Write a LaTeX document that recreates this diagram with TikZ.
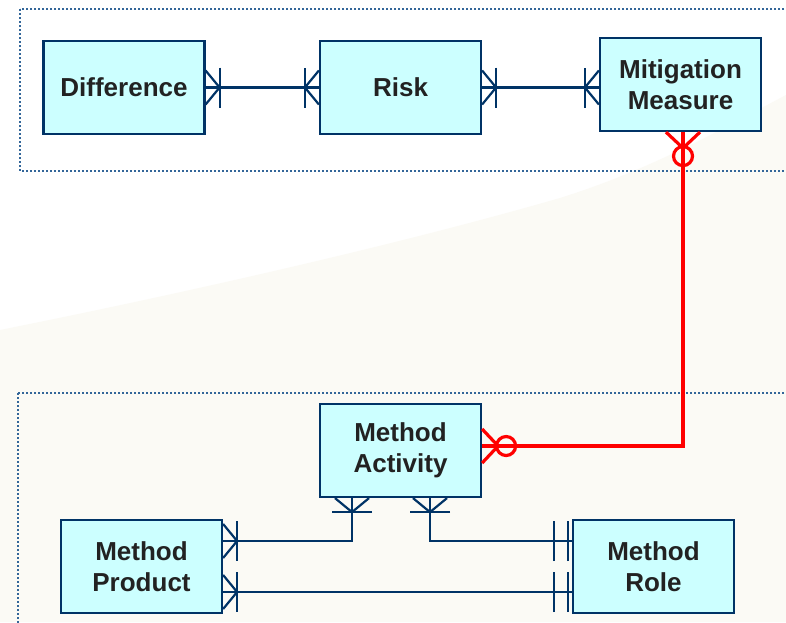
\documentclass[tikz,border=0pt]{standalone}
\usepackage{fontspec}
\setmainfont{Liberation Sans}
\definecolor{erblue}{HTML}{003366}
\definecolor{boxfill}{HTML}{CCFFFF}
\definecolor{dotblue}{HTML}{336699}
\definecolor{beige}{HTML}{FBFAF5}
\definecolor{txt}{HTML}{222222}
\tikzset{
  entity/.style={draw=erblue, line width=2.2pt, fill=boxfill, minimum width=161pt, minimum height=93pt,
    inner sep=0pt, align=center, text=txt, font=\fontsize{26}{31}\selectfont\bfseries},
  erline/.style={draw=erblue, line width=2.2pt},
  redline/.style={draw=red, line width=3.2pt},
  groupbox/.style={draw=dotblue, line width=2pt, dash pattern=on 2pt off 2pt},
  pics/onemany/.style={code={\draw[erline] (0,17)--(14,0)--(0,-17); \draw[erline] (14,-20)--(14,20);}},
  pics/zeromany/.style={code={\draw[redline] (0,17)--(16,0)--(0,-17); \draw[redline] (24,0) circle[radius=9.5pt];}},
  pics/oneone/.style={code={\draw[erline] (4,-20)--(4,20) (18,-20)--(18,20);}},
}
\begin{document}
\begin{tikzpicture}[x=1pt,y=-1pt]
\useasboundingbox (0,0) rectangle (786,622);
\clip (0,0) rectangle (786,622);
\fill[white] (0,0) rectangle (786,622);
\fill[beige] (0,330) .. controls (150,300) and (380,250) .. (560,198) .. controls (650,170) and (720,130) .. (786,95) -- (786,622) -- (0,622) -- cycle;
% group boxes
\draw[groupbox] (20,9) rectangle (800,171);
\draw[groupbox] (18,393) rectangle (800,640);
% entities
\node[entity] (diff) at (124,87.5) {Difference};
\node[entity] (risk) at (400.5,87.5) {Risk};
\node[entity] (mit) at (680.5,84.5) {Mitigation\\Measure};
\node[entity] (act) at (400.5,450.5) {Method\\Activity};
\node[entity] (prod) at (141.5,566.5) {Method\\Product};
\node[entity] (role) at (653.5,566.5) {Method\\Role};
% coordinates
\coordinate (m1) at (683,446);
\coordinate (a1) at (352,541);
\coordinate (a2) at (430,541);
% connectors
\draw[erline] (diff.east) -- (risk.west);
\pic at (diff.east) {onemany};
\pic[rotate=180] at (risk.west) {onemany};
\draw[erline] (risk.east) -- (risk.east -| mit.west);
\pic at (risk.east) {onemany};
\pic[rotate=180] at (risk.east -| mit.west) {onemany};
\draw[redline] (mit.south -| m1) -- (m1) -- (m1 -| act.east);
\pic[rotate=-90] at (mit.south -| m1) {zeromany};
\pic at (m1 -| act.east) {zeromany};
\draw[erline] (act.south -| a1) -- (a1) -- (a1 -| prod.east);
\pic[rotate=-90] at (act.south -| a1) {onemany};
\pic at (a1 -| prod.east) {onemany};
\draw[erline] (act.south -| a2) -- (a2) -- (a2 -| role.west);
\pic[rotate=-90] at (act.south -| a2) {onemany};
\pic[rotate=180] at (a2 -| role.west) {oneone};
\coordinate (b1) at (300,592);
\draw[erline] (b1 -| prod.east) -- (b1 -| role.west);
\pic at (b1 -| prod.east) {onemany};
\pic[rotate=180] at (b1 -| role.west) {oneone};
\end{tikzpicture}
\end{document}
